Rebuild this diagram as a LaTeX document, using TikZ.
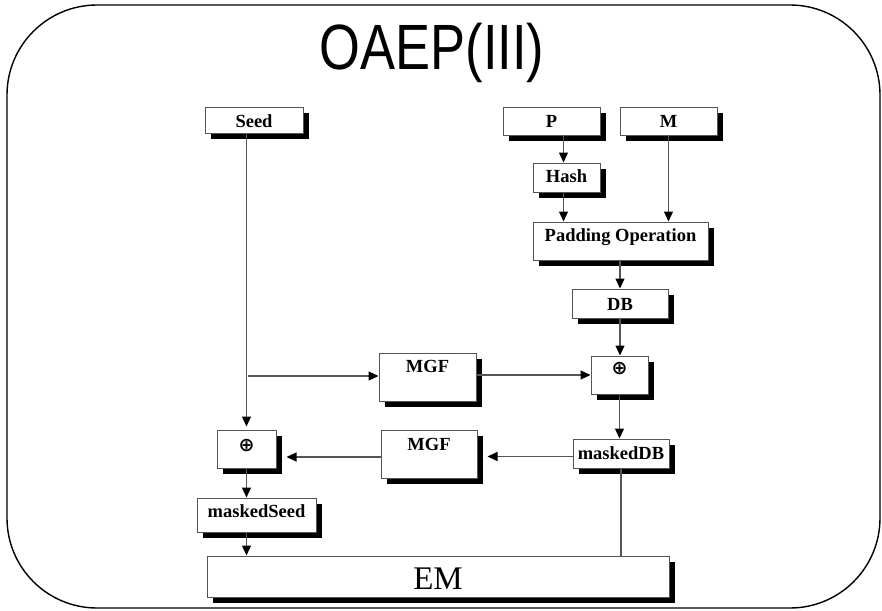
\documentclass[tikz,border=0pt]{standalone}
\usepackage{fontspec}
\setmainfont{Liberation Serif}
\newfontfamily\titlefont{Liberation Sans}
\newfontfamily\symfont{DejaVu Sans}
\usetikzlibrary{arrows.meta,shadows}

\definecolor{edgegray}{RGB}{85,85,85}

\tikzset{
  % box: width, text height (top to baseline), text depth (baseline to bottom)
  bx/.style n args={3}{
    draw=edgegray, line width=1pt, fill=white, inner sep=0pt,
    minimum width=#1, text height=#2, text depth=#3,
    font=\fontsize{18.5}{18.5}\selectfont\bfseries,
    drop shadow={shadow xshift=5.5pt, shadow yshift=-5.5pt, fill=black, opacity=1}
  },
  link/.style={draw=edgegray, line width=1.2pt},
  arr/.style={link, -{Triangle[length=10pt,width=9pt,color=black]}},
  xorsym/.style={font=\symfont\bfseries\fontsize{19}{19}\selectfont}
}

\begin{document}
\begin{tikzpicture}[x=1pt,y=-1pt]
  \useasboundingbox (0,0) rectangle (882,610);

  % outer frame
  \draw[line width=1.4pt, rounded corners=90pt] (7,5) rectangle (880,608);

  % heading
  \node[anchor=base, font=\titlefont\fontsize{64}{64}\selectfont, xscale=0.82] (title) at (432,70) {OAEP(III)};

  % boxes
  \node[bx={98pt}{20pt}{6pt}]   (seed)  at (254,120)   {Seed};
  \node[bx={97pt}{20pt}{8pt}]   (p)     at (551.5,121) {P};
  \node[bx={97pt}{20pt}{8pt}]   (m)     at (668.5,121) {M};
  \node[bx={67pt}{19pt}{10pt}]  (hash)  at (566.5,177.5) {Hash};
  \node[bx={175pt}{19pt}{19pt}] (pad)   at (620.5,241) {Padding Operation};
  \node[bx={96pt}{21pt}{8pt}]   (db)    at (620,303.5) {DB};
  \node[bx={97pt}{19pt}{29pt}]  (mgfa)  at (427.5,377) {MGF};
  \node[bx={57pt}{18pt}{20pt}, xorsym] (xora) at (619.5,375) {⊕};
  \node[bx={96pt}{20pt}{9pt}]   (mdb)   at (621,453.5) {maskedDB};
  \node[bx={96pt}{20pt}{28pt}]  (mgfb)  at (429,454) {MGF};
  \node[bx={59pt}{21.5pt}{16.5pt}, xorsym] (xorb) at (246.5,449) {⊕};
  \node[bx={119pt}{19pt}{15pt}] (mseed) at (256.5,515) {maskedSeed};
  \node[bx={462pt}{33pt}{8pt}, font=\fontsize{33}{33}\selectfont] (em) at (438,576.5) {EM};

  % right column: P, M -> padding -> DB -> xor -> maskedDB
  \draw[arr] ([xshift=-3pt]hash.north |- p.south) -- ([xshift=-3pt]hash.north);
  \draw[arr] ([xshift=-3pt]hash.south) -- ([xshift=-3pt]hash.south |- pad.north);
  \draw[arr] (m.south) -- (m.south |- pad.north);
  \draw[arr] (pad.south -| db.north) -- (db.north);
  \draw[arr] (db.south) -- (db.south |- xora.north);
  \draw[arr] (xora.south) -- (xora.south |- mdb.north);

  % seed branch
  \coordinate (tap) at (248,376);
  \draw[arr] (seed.south -| xorb.north) -- ([yshift=3pt]xorb.north);
  \draw[arr] (tap) -- (tap -| mgfa.west);
  \draw[arr] ([yshift=2pt]mgfa.east) -- ([yshift=2pt]mgfa.east -| xora.west);

  % mask back to the seed
  \draw[arr, shorten >=10pt] ([yshift=-3pt]mdb.west) -- ([yshift=-3pt]mdb.west -| mgfb.east);
  \draw[arr, shorten >=10pt] ([yshift=-3pt]mgfb.west) -- ([yshift=-3pt]mgfb.west -| xorb.east);

  % outputs into EM
  \draw[arr] (xorb.south) -- (xorb.south |- mseed.north);
  \draw[arr] (mseed.south -| xorb.south) -- (xorb.south |- em.north);
  \draw[link] (mdb.south) -- (mdb.south |- em.north);
\end{tikzpicture}
\end{document}
